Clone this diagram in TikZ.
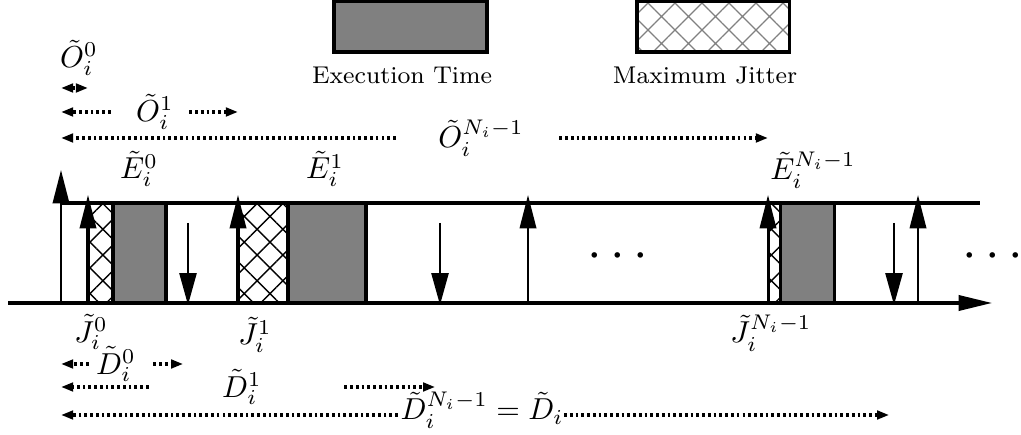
\documentclass[tikz,border=0pt]{standalone}
\usepackage{amsmath, amssymb}
\usetikzlibrary{arrows.meta, calc, patterns.meta}

\begin{document}
\begin{tikzpicture}[
    x=0.33pt, y=-0.33pt,
    exec/.style={draw=black, line width=1pt, fill=gray},
    jitter/.style={draw=black, line width=1pt, pattern={Hatch[angle=45, distance=6pt, line width=0.45pt]}, pattern color=black},
    release/.style={-{Triangle[length=11pt, width=5.4pt]}, line width=0.8pt},
    deadline/.style={-{Triangle[length=10.5pt, width=5.6pt]}, line width=0.8pt},
    span/.style={-{Triangle[length=4pt, width=2.8pt]}, line width=1pt, dash pattern=on 0.9pt off 1.0pt},
    dspan/.style={span, shorten >=1.6pt},
    lbl/.style={inner sep=0pt},
]
\useasboundingbox (0,0) rectangle (1021,435);

% Legend
\draw[exec] (334,1) rectangle (487,52);
\node[font=\footnotesize] (legexec) at (402,75) {Execution Time};
\draw[jitter, pattern={Hatch[angle=45, distance=6.3pt, line width=0.4pt]}, pattern color=gray] (637,1) rectangle (789,52);
\node[font=\footnotesize] (legjit) at (705,75) {Maximum Jitter};

% Time points
\coordinate (t0) at (61,303);
\coordinate (r0) at (88,303);
\coordinate (r1) at (238,303);
\coordinate (rN) at (768,303);
\coordinate (d0) at (188,303);
\coordinate (d1) at (440,303);
\coordinate (dN) at (894,303);

% Jobs
\draw[jitter] (88,203) rectangle (113,303);
\draw[exec] (113,203) rectangle (166,303);
\draw[jitter] (238,203) rectangle (288,303);
\draw[exec] (288,203) rectangle (366,303);
\draw[jitter] (768,203) rectangle (780,303);
\draw[exec] (780,203) rectangle (834,303);

% Axes
\draw[line width=1pt] (62,203) -- (980,203);
\draw[line width=1pt, -{Triangle[length=11pt, width=5pt]}] (8,303) -- (992,303);

% Releases and deadlines
\draw[release] (t0) -- ++(0,-133);
\foreach \x in {88,238,528,768,918}
    \draw[release] (\x,303) -- (\x,195);
\foreach \x in {188,440,894}
    \draw[deadline] (\x,223) -- (\x,305);

\node[font=\LARGE] (dots1) at (622,257) {$\cdots$};
\node[font=\LARGE] (dots2) at (997,257) {$\cdots$};

% Execution and jitter labels
\node[lbl] (E0) at (139,169) {$\tilde{E}_i^0$};
\node[lbl] (E1) at (325,169) {$\tilde{E}_i^1$};
\node[lbl] (EN) at (813,170) {$\tilde{E}_i^{N_i-1}$};
\node[lbl] (J0) at (91,332) {$\tilde{J}_i^0$};
\node[lbl] (J1) at (255,335) {$\tilde{J}_i^1$};
\node[lbl] (JN) at (771,333) {$\tilde{J}_i^{N_i-1}$};

% Offsets
\node[lbl] (O0) at (79,58) {$\tilde{O}_i^0$};
\draw[span, {Triangle[length=4pt, width=2.8pt]}-{Triangle[length=4pt, width=2.8pt]}] (t0 |- 0,88) -- (r0 |- 0,88);
\node[lbl] (O1) at (155,112) {$\tilde{O}_i^1$};
\draw[span] ($(O1.west)+(-25,0)$) -- (O1.west -| t0);
\draw[span] ($(O1.east)+(15,0)$) -- (O1.east -| r1);
\node[lbl] (ON) at (481,138) {$\tilde{O}_i^{N_i-1}$};
\draw[span] ($(ON.west)+(-42,0)$) -- (ON.west -| t0);
\draw[span] ($(ON.east)+(35,0)$) -- (ON.east -| rN);

% Deadlines
\node[lbl] (D0) at (116,364) {$\tilde{D}_i^0$};
\draw[span] ($(D0.west)+(-7,0)$) -- (D0.west -| t0);
\draw[dspan] ($(D0.east)+(17,0)$) -- (D0.east -| d0);
\node[lbl] (D1) at (242,387) {$\tilde{D}_i^1$};
\draw[span] ($(D1.west)+(-73,0)$) -- (D1.west -| t0);
\draw[dspan] ($(D1.east)+(82,0)$) -- (D1.east -| d1);
\node[lbl] (DN) at (482,410) {$\tilde{D}_i^{N_i-1} = \tilde{D}_i$};
\draw[span] ($(DN.west)+(-2,5)$) -- ($(DN.west -| t0)+(0,5)$);
\draw[dspan] ($(DN.east)+(0,5)$) -- ($(DN.east -| dN)+(0,5)$);

\end{tikzpicture}
\end{document}
